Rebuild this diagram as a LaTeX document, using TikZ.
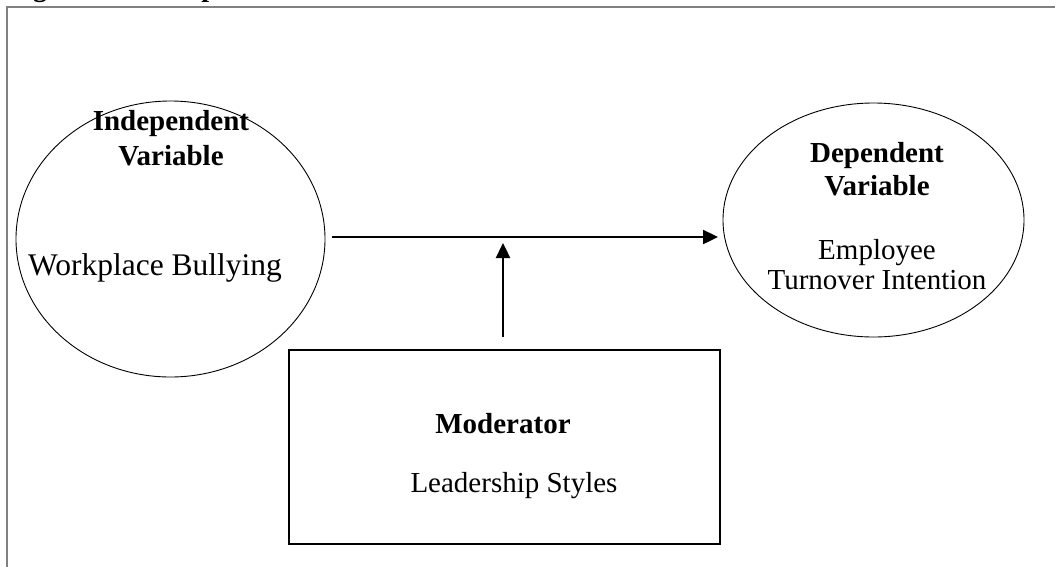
\documentclass[tikz,border=0pt]{standalone}
\usepackage{fontspec}
\setmainfont{Liberation Serif}
\usetikzlibrary{shapes.geometric,arrows.meta}
\tikzset{
  varell/.style={ellipse, draw=black, line width=0.9pt, inner sep=0pt, outer sep=0pt},
  modbox/.style={rectangle, draw=black, line width=1.2pt, inner sep=0pt, outer sep=0pt},
  lbl/.style={anchor=base, inner sep=0pt, font=\fontsize{29}{34}\selectfont},
  blbl/.style={lbl, font=\fontsize{29}{34}\selectfont\bfseries},
  arr/.style={line width=2.4pt, -{Triangle[length=15pt,width=14pt]}},
  frame/.style={draw=gray, line width=2pt}
}
\begin{document}
\begin{tikzpicture}[x=1pt,y=-1pt]
\useasboundingbox (0,0) rectangle (1055,566);
\clip (0,0) rectangle (1055,566);
\fill[white] (0,0) rectangle (1055,566);
% outer frame
\draw[frame] (7,600) -- (7,7) -- (1100,7);
% cut-off title
\node[anchor=base west, inner sep=0pt, font=\fontsize{28}{32}\selectfont\bfseries] (title) at (8,-4) {Figure 1: Conceptual Framework};
% shapes
\node[varell, minimum width=309pt, minimum height=276pt] (iv) at (170.5,239) {};
\node[varell, minimum width=301pt, minimum height=234pt] (dv) at (873.5,220) {};
\node[modbox, minimum width=431pt, minimum height=194pt] (mod) at (504.5,447) {};
% texts
\node[blbl] (ivt1) at (171,130) {Independent};
\node[blbl] (ivt2) at (171,165) {Variable};
\node[lbl, font=\fontsize{31.5}{36}\selectfont] (ivt3) at (155,275) {Workplace Bullying};
\node[blbl] (dvt1) at (877,162) {Dependent};
\node[blbl] (dvt2) at (877,195) {Variable};
\node[lbl] (dvt3) at (877,259) {Employee};
\node[lbl] (dvt4) at (877,289) {Turnover Intention};
\node[blbl] (modt1) at (503,433) {Moderator};
\node[lbl] (modt2) at (514,492) {Leadership Styles};
% connectors
\coordinate (hstart) at (332,237);
\coordinate (hend) at (718,237);
\coordinate (vstart) at (503,337);
\coordinate (vend) at (503,243);
\draw[arr] (hstart) -- (hend);
\draw[arr] (vstart) -- (vend);
\end{tikzpicture}
\end{document}
